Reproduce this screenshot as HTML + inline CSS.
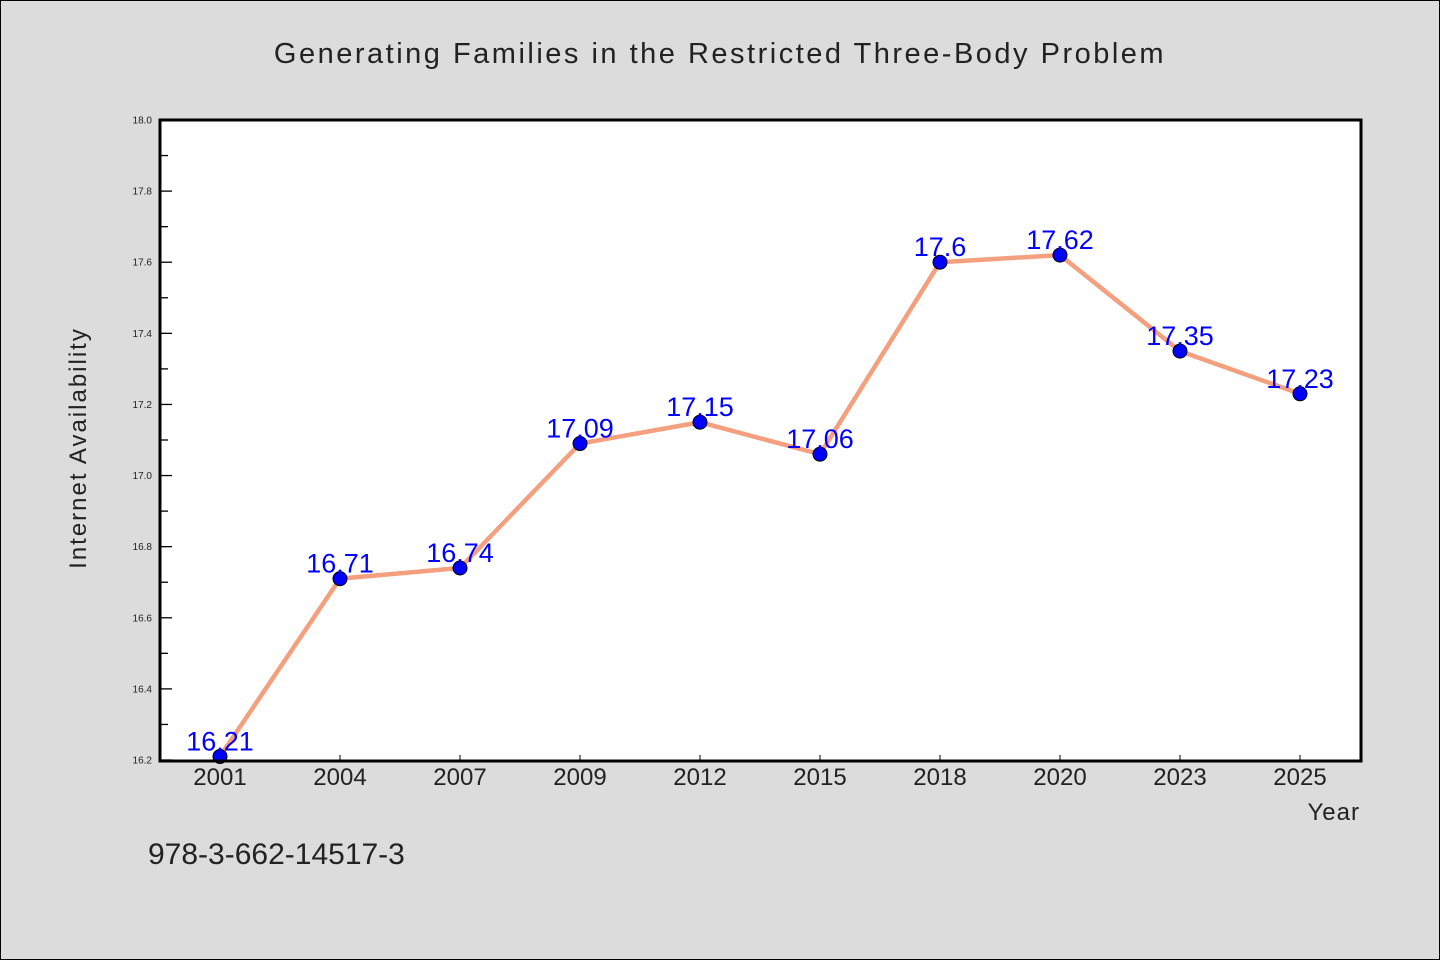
<!DOCTYPE html>
<html><head><meta charset="utf-8"><style>
body{margin:0;background:#dcdcdc;}
svg{display:block;font-family:"WenQuanYi Zen Hei","Liberation Sans",sans-serif;}
</style></head><body>
<svg id="chart" width="1440" height="960">
<rect x="0.5" y="0.5" width="1439" height="959" fill="#dcdcdc" stroke="#000"/>
<text x="720" y="63" text-anchor="middle" font-size="29" fill="#222" letter-spacing="2.5">Generating Families in the Restricted Three-Body Problem</text>
<rect x="160" y="120" width="1201" height="641" fill="#fff"/>
<g id="yt"></g><g id="xt"></g><g id="marks"></g>
<rect x="160" y="120" width="1201" height="641" fill="none" stroke="#000" stroke-width="3"/>
<text transform="translate(86,448) rotate(-90)" text-anchor="middle" font-size="24" fill="#222" letter-spacing="2">Internet Availability</text>
<text x="1360" y="820" text-anchor="end" font-size="24" fill="#222" letter-spacing="1">Year</text>
<text x="148" y="864" font-size="30" fill="#222">978-3-662-14517-3</text>
</svg>
<script>
const categories=["2001","2004","2007","2009","2012","2015","2018","2020","2023","2025"];
const values=[16.21,16.71,16.74,17.09,17.15,17.06,17.6,17.62,17.35,17.23];
const yTicks=[16.2,16.4,16.6,16.8,17.0,17.2,17.4,17.6,17.8,18.0];
const NS="http://www.w3.org/2000/svg";
const x0=160,x1=1361,yTop=120,yBot=760,ymin=16.2,ymax=18.0;
const xs=i=>220+i*((1300-220)/(categories.length-1));
const ys=v=>yBot-(v-ymin)/(ymax-ymin)*(yBot-yTop);
function mk(t,a,p){const e=document.createElementNS(NS,t);for(const k in a)e.setAttribute(k,a[k]);p.appendChild(e);return e;}
const yt=document.getElementById('yt'),xt=document.getElementById('xt'),mg=document.getElementById('marks');
yTicks.forEach((v,i)=>{
 const y=ys(v);
 const l=mk('line',{x1:x0,x2:x0+12,y1:y,y2:y,stroke:'#000','stroke-width':1.3},yt);
 
 
 if(i<yTicks.length-1){const m=mk('line',{x1:x0,x2:x0+8,y1:(y+ys(yTicks[i+1]))/2,y2:(y+ys(yTicks[i+1]))/2,stroke:'#000','stroke-width':1.3},yt);
 
 }
 const t=mk('text',{x:152,y:y+3.5,'text-anchor':'end','font-size':10,fill:'#222'},yt);t.textContent=v.toFixed(1);
 
 
});
categories.forEach((c,i)=>{
 const x=xs(i);
 const l=mk('line',{x1:x,x2:x,y1:yBot,y2:yBot-5,stroke:'#000','stroke-width':1},xt);
 
 
 const t=mk('text',{x:x,y:785,'text-anchor':'middle','font-size':24,fill:'#222'},xt);t.textContent=c;
 
 
});
const pts=values.map((v,i)=>xs(i)+','+ys(v)).join(' ');
const pl=mk('polyline',{points:pts,fill:'none',stroke:'#f4a07e','stroke-width':4.5,'stroke-linejoin':'round'},mg);


values.forEach((v,i)=>{
 const c=mk('circle',{cx:xs(i),cy:ys(v),r:7,fill:'#0000ff',stroke:'#000','stroke-width':1},mg);
 
 
 const t=mk('text',{x:xs(i),y:ys(v)-6,'text-anchor':'middle','font-size':27,fill:'#0000ff'},mg);t.textContent=String(v);
 
 
});
</script>
</body></html>
